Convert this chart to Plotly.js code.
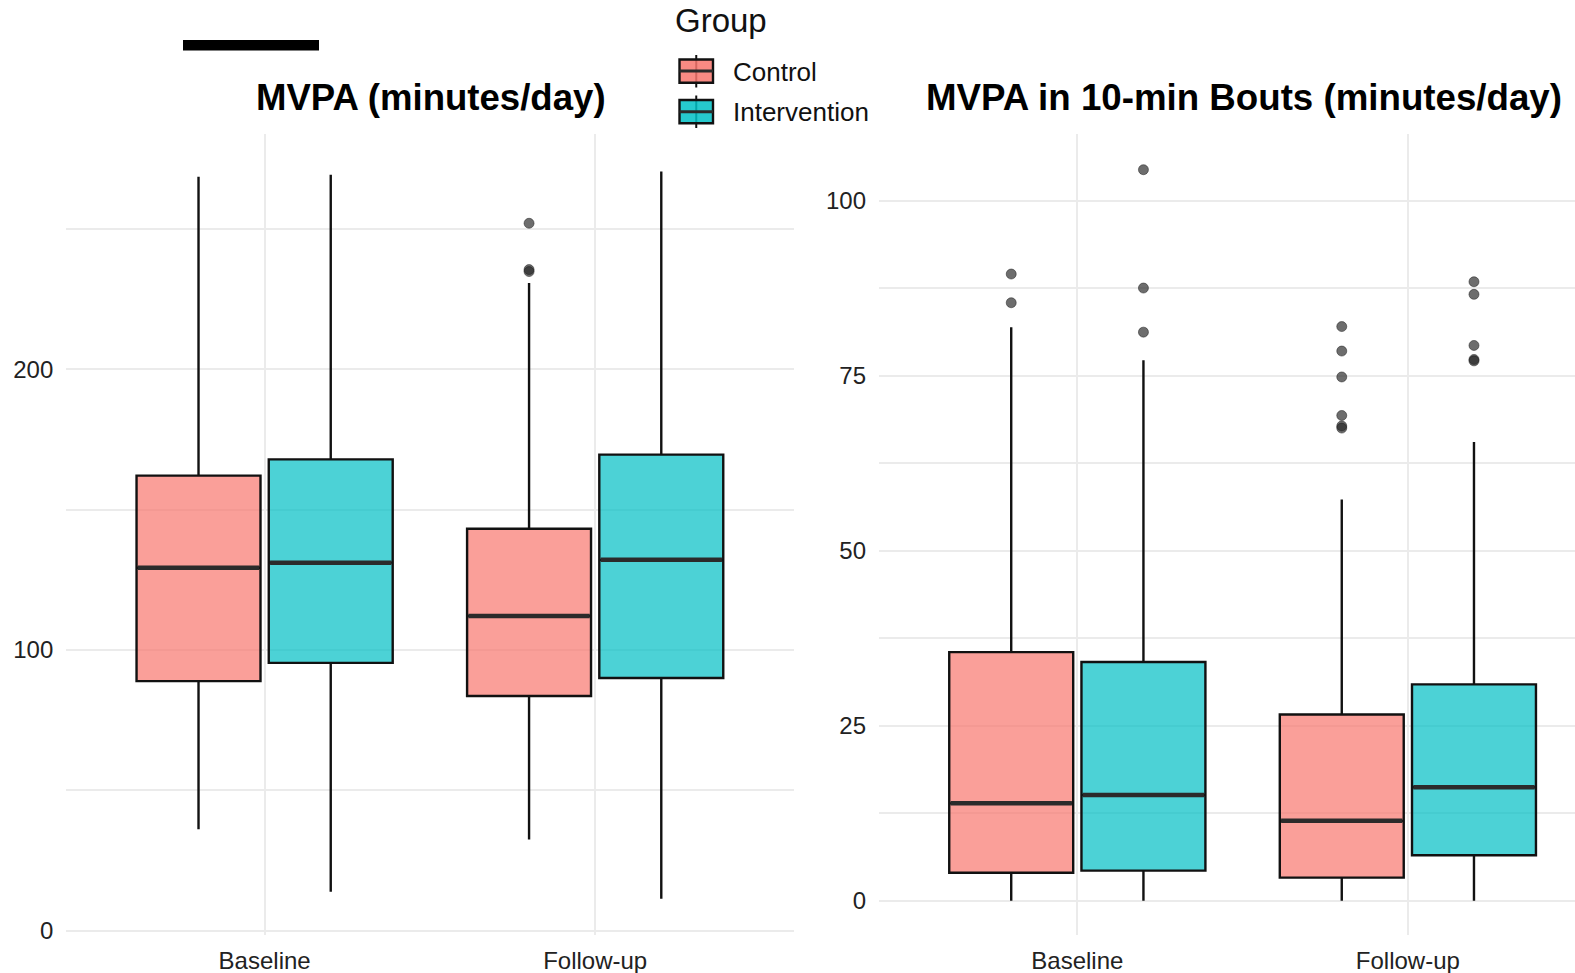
<!DOCTYPE html>
<html>
<head>
<meta charset="utf-8">
<script src="https://cdn.plot.ly/plotly-3.0.1.min.js"></script>
<style>html,body{margin:0;padding:0;background:#fff;}#chart{width:1575px;height:973px;}</style>
</head>
<body>
<div id="chart"></div>
<script>
// ---------- data ----------
const categories = ['Baseline', 'Follow-up'];
const groups = ['Control', 'Intervention'];

// MVPA (minutes/day)
const mvpaControlLow    = [36.1, 32.5];
const mvpaControlQ1     = [88.9, 83.6];
const mvpaControlMedian = [129.3, 112.1];
const mvpaControlQ3     = [162.1, 143.2];
const mvpaControlHigh   = [268.6, 230.7];
const mvpaInterventionLow    = [13.9, 11.4];
const mvpaInterventionQ1     = [95.4, 90.0];
const mvpaInterventionMedian = [131.1, 132.1];
const mvpaInterventionQ3     = [167.9, 169.6];
const mvpaInterventionHigh   = [269.3, 270.4];
const mvpaControlOutliers      = [[], [252.0, 235.5, 234.8]];
const mvpaInterventionOutliers = [[], []];

// MVPA in 10-min bouts (minutes/day)
const boutControlLow    = [0, 0];
const boutControlQ1     = [4.0, 3.3];
const boutControlMedian = [13.9, 11.4];
const boutControlQ3     = [35.5, 26.6];
const boutControlHigh   = [81.9, 57.3];
const boutInterventionLow    = [0, 0];
const boutInterventionQ1     = [4.3, 6.5];
const boutInterventionMedian = [15.1, 16.2];
const boutInterventionQ3     = [34.1, 30.9];
const boutInterventionHigh   = [77.2, 65.5];
const boutControlOutliers      = [[89.5, 85.4], [82.0, 78.5, 74.8, 69.3, 67.8, 67.5]];
const boutInterventionOutliers = [[104.4, 87.5, 81.2], [88.4, 86.6, 79.3, 77.3, 77.1]];

// ---------- styling ----------
const FONT = 'Liberation Sans, Arial, Helvetica, sans-serif';
const fills = ['rgba(248,118,109,0.7)', 'rgba(0,191,196,0.7)'];
const BW = 0.375;
const OFF = 0.2;
const W = 1575, H = 973, MT = 134, MB = 38;
const px = x => x / W;
const py = y => (H - MB - y) / (H - MT - MB);

function posArr(g) { return categories.map((c, i) => i + 1 + (g === 0 ? -OFF : OFF)); }

const traces = [];
function panel(xa, ya, stats, outliers) {
  stats.forEach((s, g) => {
    const xs = posArr(g);
    traces.push({
      type: 'box', xaxis: xa, yaxis: ya, x: xs,
      lowerfence: s.low, q1: s.q1, median: s.med, q3: s.q3, upperfence: s.high,
      width: BW, whiskerwidth: 0, boxpoints: false,
      fillcolor: fills[g], line: {color: '#111', width: 2.4},
      name: groups[g], showlegend: false, hoverinfo: 'skip'
    });
  });
  stats.forEach((s, g) => {
    const xs = posArr(g);
    xs.forEach((xc, i) => {
      traces.push({
        type: 'scatter', mode: 'lines', xaxis: xa, yaxis: ya,
        x: [xc - BW / 2 + 0.004, xc + BW / 2 - 0.004], y: [s.med[i], s.med[i]],
        line: {color: '#2b2b2b', width: 4.5}, showlegend: false, hoverinfo: 'skip'
      });
    });
  });
  outliers.forEach((o, g) => {
    const xs = posArr(g);
    const ox = [], oy = [];
    o.forEach((vals, i) => vals.forEach(v => { ox.push(xs[i]); oy.push(v); }));
    if (ox.length) traces.push({
      type: 'scatter', mode: 'markers', xaxis: xa, yaxis: ya, x: ox, y: oy,
      marker: {size: 10, color: 'rgba(40,40,40,0.68)', line: {color: 'rgba(30,30,30,0.5)', width: 1}},
      showlegend: false, hoverinfo: 'skip'
    });
  });
}

panel('x', 'y', [
  {low: mvpaControlLow, q1: mvpaControlQ1, med: mvpaControlMedian, q3: mvpaControlQ3, high: mvpaControlHigh},
  {low: mvpaInterventionLow, q1: mvpaInterventionQ1, med: mvpaInterventionMedian, q3: mvpaInterventionQ3, high: mvpaInterventionHigh}
], [mvpaControlOutliers, mvpaInterventionOutliers]);

panel('x2', 'y2', [
  {low: boutControlLow, q1: boutControlQ1, med: boutControlMedian, q3: boutControlQ3, high: boutControlHigh},
  {low: boutInterventionLow, q1: boutInterventionQ1, med: boutInterventionMedian, q3: boutInterventionQ3, high: boutInterventionHigh}
], [boutControlOutliers, boutInterventionOutliers]);

const gridC = '#EBEBEB';
const xCommon = {
  tickvals: [1, 2], ticktext: categories, showgrid: true, gridcolor: gridC, gridwidth: 2,
  zeroline: false, showline: false, ticks: '', ticklabelstandoff: 9,
  tickfont: {family: FONT, size: 24, color: '#222'}, fixedrange: true
};
const yCommon = {
  showgrid: true, gridcolor: gridC, gridwidth: 2, zeroline: false, showline: false, ticks: '',
  ticklabelstandoff: 12, tickfont: {family: FONT, size: 24, color: '#222'}
};

const x1L = 66.3, x1R = 793.5, x2L = 879;
const unit = (x1R - x1L) / 2.2;
const x2R = W;

const layout = {
  width: W, height: H,
  margin: {l: 0, r: 0, t: MT, b: MB, pad: 0},
  paper_bgcolor: '#fff', plot_bgcolor: '#fff',
  showlegend: false, boxmode: 'overlay',
  xaxis: Object.assign({}, xCommon, {domain: [px(x1L), px(x1R)], range: [0.4, 2.6], anchor: 'y'}),
  yaxis: Object.assign({}, yCommon, {range: [-1.53, 283.8], tickvals: [0, 100, 200],
    minor: {tickvals: [50, 150, 250], showgrid: true, gridcolor: gridC, gridwidth: 2}, anchor: 'x'}),
  xaxis2: Object.assign({}, xCommon, {domain: [px(x2L), 1], range: [0.4, 0.4 + (x2R - x2L) / unit], anchor: 'y2'}),
  yaxis2: Object.assign({}, yCommon, {range: [-4.9, 109.5], tickvals: [0, 25, 50, 75, 100],
    minor: {tickvals: [12.5, 37.5, 62.5, 87.5], showgrid: true, gridcolor: gridC, gridwidth: 2}, anchor: 'x2'}),
  annotations: [
    {text: '<b>MVPA (minutes/day)</b>', xref: 'paper', yref: 'paper', x: px(431), y: py(98),
     xanchor: 'center', yanchor: 'middle', showarrow: false, font: {family: FONT, size: 36.6, color: '#000'}},
    {text: '<b>MVPA in 10-min Bouts (minutes/day)</b>', xref: 'paper', yref: 'paper', x: px(1244), y: py(98),
     xanchor: 'center', yanchor: 'middle', showarrow: false, font: {family: FONT, size: 36.7, color: '#000'}},
    {text: 'Group', xref: 'paper', yref: 'paper', x: px(673), y: py(20),
     xanchor: 'left', yanchor: 'middle', showarrow: false, font: {family: FONT, size: 33, color: '#111'}},
    {text: groups[0], xref: 'paper', yref: 'paper', x: px(731), y: py(72),
     xanchor: 'left', yanchor: 'middle', showarrow: false, font: {family: FONT, size: 26, color: '#111'}},
    {text: groups[1], xref: 'paper', yref: 'paper', x: px(731), y: py(112),
     xanchor: 'left', yanchor: 'middle', showarrow: false, font: {family: FONT, size: 26, color: '#111'}}
  ],
  shapes: []
};

// black bar at top-left
layout.shapes.push({type: 'rect', xref: 'paper', yref: 'paper', x0: px(183), x1: px(319), y0: py(50.5), y1: py(40),
  fillcolor: '#000', line: {width: 0}});

// legend keys
[[59.5, 82.7, 71, 55, 87.5], [100, 123.3, 111.7, 95.5, 128]].forEach((k, g) => {
  const xl = 679.5, xr = 713, xc = (xl + xr) / 2;
  layout.shapes.push({type: 'line', xref: 'paper', yref: 'paper', x0: px(xc), x1: px(xc), y0: py(k[3]), y1: py(k[4]),
    line: {color: '#111', width: 2}});
  layout.shapes.push({type: 'rect', xref: 'paper', yref: 'paper', x0: px(xl), x1: px(xr), y0: py(k[1]), y1: py(k[0]),
    fillcolor: fills[g].replace('0.7', '0.85'), line: {color: '#111', width: 2.4}});
  layout.shapes.push({type: 'line', xref: 'paper', yref: 'paper', x0: px(xl), x1: px(xr), y0: py(k[2]), y1: py(k[2]),
    line: {color: '#2b2b2b', width: 3}});
});

Plotly.newPlot('chart', traces, layout, {displayModeBar: false, staticPlot: true});
</script>
</body>
</html>
